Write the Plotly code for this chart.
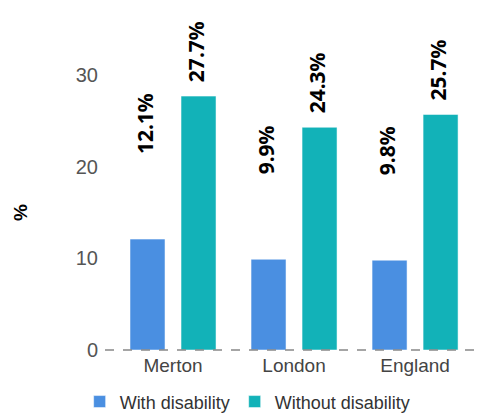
import plotly.graph_objects as go

categories = ["Merton", "London", "England"]
with_disability = [12.1, 9.9, 9.8]
without_disability = [27.7, 24.3, 25.7]
series_names = ["With disability", "Without disability"]
y_ticks = [0, 10, 20, 30]

colors = ["#4a8fe1", "#12b2b8"]
label_shift = [83, 12]

fig = go.Figure()
for name, vals, col in zip(series_names, [with_disability, without_disability], colors):
    fig.add_trace(go.Bar(
        name=name, x=categories, y=vals,
        marker=dict(color=col, line=dict(color="rgba(255,255,255,0.5)", width=1)),
    ))

# value labels
for i, (vals, shift) in enumerate(zip([with_disability, without_disability], label_shift)):
    for j, v in enumerate(vals):
        fig.add_annotation(
            x=categories[j], y=v, xref="x", yref="y",
            text=f"{v:.1f}%", textangle=-90, showarrow=False,
            xshift=(-28.5 if i == 0 else 22.5), yshift=shift,
            yanchor="bottom",
            font=dict(family="Noto Sans", size=21, color="#000000", weight="bold"),
        )

fig.add_shape(type="line", xref="paper", yref="y", x0=0, x1=1, y0=0, y1=0,
              layer="above", line=dict(color="#888888", width=1.5, dash="dash"))

# y axis title
fig.add_annotation(text="<b>%</b>", xref="paper", yref="paper", x=-0.262, y=0.415,
                   textangle=-90, showarrow=False,
                   font=dict(family="Liberation Sans, Arial", size=19, color="#000000"))

fig.update_layout(
    width=478, height=414,
    margin=dict(l=105, r=0, t=15, b=62, autoexpand=False),
    paper_bgcolor="white", plot_bgcolor="white",
    barmode="group", bargap=0.157, bargroupgap=0.314,
    font=dict(family="Liberation Sans, Arial", size=19, color="#444444"),
    showlegend=True,
    legend=dict(orientation="h", x=-0.068, xanchor="left", y=-0.148, yanchor="middle",
                font=dict(size=18, color="#333333"), itemwidth=30, traceorder="normal"),
    xaxis=dict(range=[-0.562, 2.52], showgrid=False, showline=False, ticks="",
               automargin=False, tickfont=dict(size=19, color="#444444")),
    yaxis=dict(range=[-0.218, 36.55], tickvals=y_ticks, showgrid=False, zeroline=False,
               showline=False, ticks="", ticklabelstandoff=6, automargin=False,
               tickfont=dict(size=20, color="#555555")),
)

fig.write_html("out.html", config={"displayModeBar": False},
               post_script="document.body.style.margin='0';")
